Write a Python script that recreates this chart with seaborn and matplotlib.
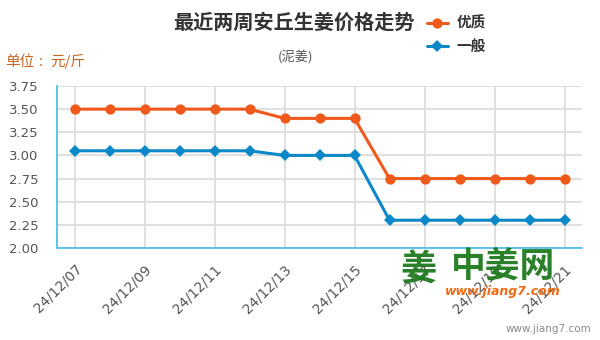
import matplotlib
matplotlib.use("Agg")
import matplotlib.pyplot as plt
import seaborn as sns
import pandas as pd
from matplotlib.lines import Line2D

# Daily ginger prices (元/斤), Anqiu, mud ginger
dates = ["24/12/07", "24/12/08", "24/12/09", "24/12/10", "24/12/11",
         "24/12/12", "24/12/13", "24/12/14", "24/12/15", "24/12/16",
         "24/12/17", "24/12/18", "24/12/19", "24/12/20", "24/12/21"]
premium = [3.50, 3.50, 3.50, 3.50, 3.50, 3.50, 3.40, 3.40, 3.40,
           2.75, 2.75, 2.75, 2.75, 2.75, 2.75]
ordinary = [3.05, 3.05, 3.05, 3.05, 3.05, 3.05, 3.00, 3.00, 3.00,
            2.30, 2.30, 2.30, 2.30, 2.30, 2.30]
series_names = ["优质", "一般"]
y_ticks = [2.00, 2.25, 2.50, 2.75, 3.00, 3.25, 3.50, 3.75]

sns.set_theme(style="white")
plt.rcParams["font.family"] = ["Noto Sans CJK SC", "DejaVu Sans"]

ORANGE = "#EF5A1C"
BLUE = "#0C88C8"
AXIS = "#4FC0EC"
GRID = "#DDDDDD"
TEXT = "#555555"
UNIT = "#C8641E"

idx = list(range(len(dates)))
df = pd.DataFrame({
    "idx": idx * 2,
    "price": premium + ordinary,
    "kind": [series_names[0]] * len(dates) + [series_names[1]] * len(dates),
})

fig = plt.figure(figsize=(6.0, 3.4), dpi=100)
ax = fig.add_axes([0.095, 0.2706, 0.875, 0.4765])

sns.lineplot(data=df, x="idx", y="price", hue="kind", style="kind",
             palette={series_names[0]: ORANGE, series_names[1]: BLUE},
             markers={series_names[0]: "o", series_names[1]: "D"},
             dashes=False, linewidth=2.2, markersize=7.4,
             markeredgewidth=0, ax=ax, legend=False, zorder=3)
# smaller diamonds for the second series
for ln in ax.get_lines():
    if ln.get_marker() == "D":
        ln.set_markersize(5.8)

ax.set_xlim(-0.5, 14.5)
ax.set_ylim(2.0, 3.75)
ax.set_yticks(y_ticks)
ax.set_yticklabels([f"{v:.2f}" for v in y_ticks], color=TEXT,
                   fontsize=9.5, family="DejaVu Sans")
ax.set_xticks(idx[::2])
ax.set_xticklabels(dates[::2], rotation=45, ha="right", va="top",
                   rotation_mode="anchor", color=TEXT, fontsize=10,
                   family="DejaVu Sans")
ax.set_xlabel("")
ax.set_ylabel("")

ax.grid(True, color=GRID, linewidth=1.3, zorder=0)
ax.set_axisbelow(True)
for side in ("top", "right"):
    ax.spines[side].set_visible(False)
for side in ("left", "bottom"):
    ax.spines[side].set_color(AXIS)
    ax.spines[side].set_linewidth(1.3)
ax.tick_params(axis="y", direction="out", color=AXIS, width=1.3,
               length=8.5, pad=5)
ax.tick_params(axis="x", direction="out", color=AXIS, width=1.3,
               length=8, pad=2)

# titles and unit
fig.text(0.49, 0.935, "最近两周安丘生姜价格走势", ha="center", va="center",
         fontsize=14.5, fontweight="bold", color="#333333")
fig.text(0.492, 0.832, "(泥姜)", ha="center", va="center",
         fontsize=9.5, color="#555555")
fig.text(0.009, 0.818, "单位", ha="left", va="center",
         fontsize=10.5, color=UNIT)
fig.text(0.069, 0.818, ":", ha="center", va="center",
         fontsize=10.5, color=UNIT)
fig.text(0.084, 0.818, "元/斤", ha="left", va="center",
         fontsize=10.5, color=UNIT)

# legend
handles = [
    Line2D([], [], color=ORANGE, lw=2.2, marker="o", markersize=7.4,
           markeredgewidth=0),
    Line2D([], [], color=BLUE, lw=2.2, marker="D", markersize=5.8,
           markeredgewidth=0),
]
leg = fig.legend(handles, series_names, loc="upper left",
                 bbox_to_anchor=(0.69, 0.995), frameon=False,
                 handlelength=1.4, handletextpad=0.6, labelspacing=0.5,
                 prop={"family": ["Noto Sans CJK SC"], "weight": "bold",
                       "size": 10.5})
for t in leg.get_texts():
    t.set_color("#333333")

# site watermark
fig.text(0.697, 0.205, "姜", ha="center", va="center", fontsize=26,
         fontweight="bold", color="#1E7A1E", alpha=0.95)
fig.text(0.838, 0.218, "中姜网", ha="center", va="center", fontsize=25,
         fontweight="bold", color="#1E7A1E", alpha=0.95)
fig.text(0.838, 0.142, "www.jiang7.com", ha="center", va="center",
         fontsize=9, fontweight="bold", style="italic", color="#F26A10",
         family="DejaVu Sans")
fig.text(0.985, 0.032, "www.jiang7.com", ha="right", va="center",
         fontsize=7.5, color="#8A8A8A", family="DejaVu Sans")

fig.savefig("out.png", dpi=100)
